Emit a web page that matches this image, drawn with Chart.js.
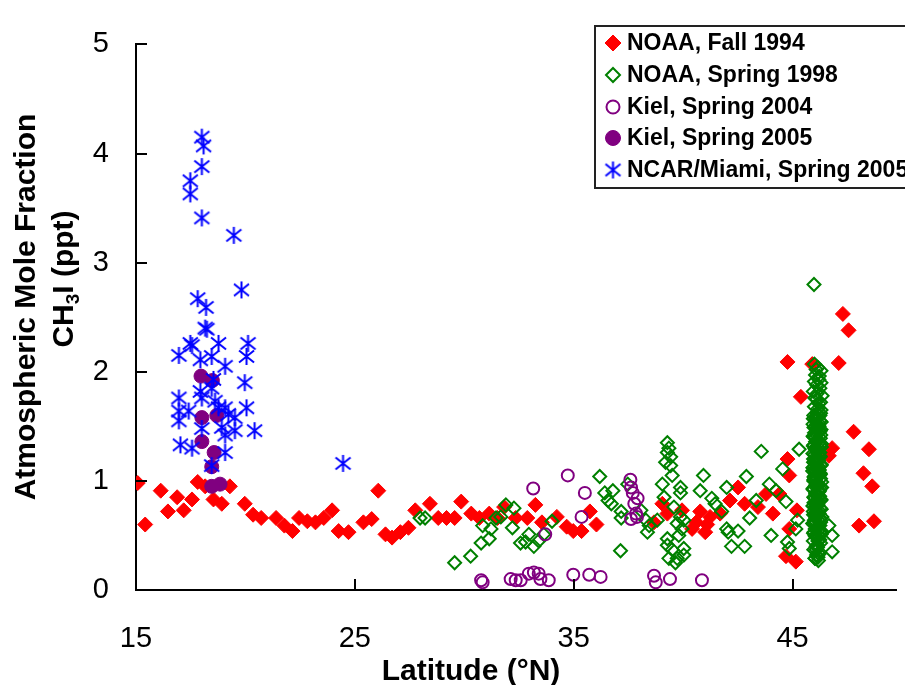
<!DOCTYPE html>
<html>
<head>
<meta charset="utf-8">
<script src="https://cdn.jsdelivr.net/npm/chart.js@4.4.1/dist/chart.umd.min.js"></script>
<style>
  body { margin: 0; background: #fff; }
  canvas { display: block; }
</style>
</head>
<body>
<canvas id="grafico" width="905" height="685"></canvas>
<script>
// eixos
var xTicks = [15, 25, 35, 45];
var yTicks = [0, 1, 2, 3, 4, 5];
var xTitle = 'Latitude (°N)';
var yTitle1 = 'Atmospheric Mole Fraction';
var yTitle2 = ['CH', '3', 'I (ppt)'];

var seriesLabels = ['NOAA, Fall 1994', 'NOAA, Spring 1998', 'Kiel, Spring 2004', 'Kiel, Spring 2005', 'NCAR/Miami, Spring 2005'];

// NOAA, Fall 1994
var noaa94Lat = [15.08,15.42,16.13,16.46,16.88,17.18,17.56,17.82,18.16,18.54,18.92,19.29,19.97,20.35,20.72,21.4,21.78,22.15,22.45,22.83,23.2,23.58,23.96,24.26,24.71,25.39,25.77,26.07,26.4,26.7,27.08,27.45,27.76,28.43,28.81,29.19,29.56,29.86,30.32,30.69,31.14,31.52,31.82,32.35,32.88,33.25,33.55,34.23,34.68,34.98,35.36,35.74,36.04,38.67,39.05,39.28,39.95,40.41,40.6,40.78,41.01,41.1,41.23,41.69,42.14,42.51,42.81,43.42,43.79,44.1,44.4,44.77,44.85,44.77,45.38,44.85,44.7,45.15,45.2,45.9,46.66,46.81,47.11,47.3,47.56,47.79,48.49,48.24,48.64,48.04,48.72];
var noaa94Val = [0.98,0.60,0.91,0.72,0.85,0.73,0.83,0.99,0.95,0.83,0.79,0.95,0.79,0.69,0.66,0.66,0.59,0.54,0.66,0.63,0.62,0.66,0.73,0.54,0.53,0.62,0.65,0.91,0.51,0.48,0.53,0.57,0.73,0.79,0.66,0.66,0.66,0.81,0.70,0.66,0.70,0.66,0.76,0.66,0.66,0.78,0.62,0.67,0.58,0.54,0.54,0.72,0.60,0.62,0.79,0.70,0.73,0.56,0.62,0.72,0.53,0.60,0.67,0.70,0.82,0.94,0.79,0.76,0.88,0.70,0.88,1.20,1.05,2.09,1.77,0.56,0.31,0.26,0.73,2.07,1.23,1.30,2.08,2.53,2.38,1.45,1.29,1.07,0.95,0.59,0.63];

// NOAA, Spring 1998 (a coluna densa em ~46N vem no fim)
var noaa98Lat = [27.98,28.21,29.56,30.29,30.77,30.84,31.14,31.22,31.45,31.67,31.9,32.27,32.2,32.57,32.8,32.95,33.18,33.4,33.63,34.01,36.19,36.42,36.57,36.79,36.72,37.17,37.17,37.14,37.47,
  38.07,38.3,38.45,38.37,38.82,39.28,39.35,39.28,39.43,39.2,39.43,39.5,39.05,39.88,39.88,39.13,39.58,39.88,39.73,39.95,40.03,39.28,39.28,39.5,39.73,39.35,40.03,40.03,39.65,39.8,
  40.93,40.78,41.31,41.46,41.76,41.99,41.99,42.06,42.51,42.21,42.81,42.89,43.04,43.34,43.57,43.94,44.02,44.25,44.55,44.7,44.77,44.85,45.3,45.23,45.15,46.81,46.81,46.66,45.98,
  46.00,46.15,46.30,46.05,46.20,46.10,46.25,45.95,46.35,46.10,46.20,46.00,46.30,46.10,46.25,
  46.08,46.22,46.00,46.30,46.12,46.02,46.28,46.15,
  45.95,46.25,46.10,45.98,46.30,46.12,45.94,46.27,46.08,45.97,46.32,46.15,45.93,46.24,46.05,45.96,46.31,46.13,45.92,46.26,46.07,45.98,46.33,46.14,45.94,46.23,46.06,45.97,46.30,46.11,45.93,46.27,46.09,45.96,46.34,46.16,45.92,46.25,46.04,45.98,46.31,46.12,45.95,46.28,46.08,45.97,46.22,46.10,46.02,46.18,
  46.18,46.02,46.20,46.03,46.19,46.01,46.20,46.05,46.22,46.00,46.17,46.03,46.21,46.14,46.06,46.18,45.99,46.24,46.09,46.16,
  46.28,45.97,46.16,46.04,46.31,45.94,46.21,46.09,46.26,46.00,46.29,45.98,46.14,46.05,46.32,45.95,46.20,46.10,46.25,46.01,
  46.27,45.96,46.17,46.03,46.30,45.93,46.22,46.08,46.27,45.99,46.28,45.97,46.15,46.06,46.33,45.94,46.19,46.11,46.24,46.02,
  46.29,45.98,46.16,46.04,46.31,45.95,46.21,46.09,46.26,46.00,46.28,45.97,46.13,46.05,46.30,45.96,46.20,46.12,46.23,
  46.13,46.07,46.19,46.03,46.24,45.99,46.11,46.27,46.05,46.17,46.12,46.08,46.20,46.02,46.23,46.00,46.10,46.26,46.06,46.18,
  46.14,46.07,46.19,46.04,46.25,45.99,46.12,46.27,46.05,46.16,46.13,46.08,46.21,46.03];
var noaa98Val = [0.66,0.66,0.25,0.31,0.43,0.59,0.47,0.56,0.66,0.67,0.78,0.75,0.57,0.43,0.44,0.51,0.40,0.45,0.51,0.63,1.04,0.89,0.82,0.91,0.79,0.72,0.66,0.36,0.97,
  0.73,0.64,0.59,0.53,0.64,1.35,1.30,1.26,1.22,1.17,1.14,1.05,0.97,0.94,0.89,0.85,0.76,0.67,0.61,0.56,0.64,0.47,0.41,0.37,0.29,0.29,0.38,0.32,0.25,0.50,
  1.05,0.91,0.84,0.79,0.72,0.94,0.56,0.53,0.54,0.40,0.40,1.04,0.66,0.82,1.27,0.97,0.50,0.91,1.11,0.81,0.44,0.38,1.29,0.64,0.56,0.35,0.50,0.59,2.80,
  2.07,2.04,2.01,1.97,1.93,1.88,1.85,1.82,1.78,1.75,1.71,1.68,1.65,1.62,1.60,
  2.02,1.96,1.91,1.90,1.80,1.76,1.72,1.66,
  1.57,1.55,1.52,1.49,1.47,1.44,1.41,1.39,1.36,1.33,1.31,1.28,1.25,1.23,1.20,1.17,1.15,1.12,1.09,1.07,1.04,1.01,0.99,0.96,0.93,0.91,0.88,0.85,0.83,0.80,0.77,0.75,0.72,0.69,0.67,0.64,0.61,0.59,0.56,0.53,0.51,0.48,0.45,0.43,0.40,0.37,0.35,0.32,0.29,0.27,
  1.50,1.30,1.10,0.95,0.70,0.62,0.90,1.40,1.35,1.13,0.82,0.50,0.55,0.39,0.66,1.19,1.03,0.46,1.58,0.30,
  1.62,1.60,1.58,1.56,1.54,1.52,1.50,1.48,1.46,1.44,1.42,1.40,1.38,1.36,1.34,1.32,1.30,1.28,1.26,1.24,
  1.22,1.20,1.18,1.16,1.14,1.12,1.10,1.08,1.06,1.04,1.02,1.00,0.98,0.96,0.94,0.92,0.90,0.88,0.86,0.84,
  0.82,0.80,0.78,0.76,0.74,0.72,0.70,0.68,0.66,0.64,0.62,0.60,0.58,0.56,0.54,0.52,0.50,0.48,0.46,
  1.61,1.57,1.53,1.49,1.45,1.41,1.37,1.33,1.29,1.25,1.21,1.17,1.13,1.09,1.05,1.01,0.97,0.93,0.89,0.85,
  0.81,0.77,0.73,0.69,0.65,0.61,0.57,0.53,0.49,0.45,0.41,0.37,0.33,0.29];

// Kiel, Spring 2004
var kiel04Lat = [30.77,30.84,32.12,32.35,32.58,32.95,33.18,33.4,33.48,33.86,33.15,33.7,34.73,35.51,35.36,34.98,35.71,36.23,37.59,37.62,37.7,37.77,37.85,37.62,37.92,37.89,38.67,38.75,39.4,40.86];
var kiel04Val = [0.09,0.07,0.10,0.09,0.09,0.15,0.16,0.15,0.10,0.09,0.93,0.51,1.05,0.89,0.67,0.14,0.14,0.12,1.01,0.94,0.89,0.79,0.70,0.65,0.84,0.67,0.13,0.07,0.10,0.09];

// Kiel, Spring 2005
var kiel05Lat = [17.97,18.49,18.01,18.69,18.01,18.57,18.46,18.46,18.84];
var kiel05Val = [1.96,1.92,1.58,1.60,1.36,1.26,1.13,0.95,0.97];

// NCAR/Miami, Spring 2005
var ncarLat = [18.01,18.09,18.01,17.48,17.48,18.01,19.47,19.82,17.82,18.2,18.16,18.24,17.48,17.56,18.77,20.12,20.05,16.96,17.94,18.46,19.07,18.54,19.97,17.94,18.01,18.46,16.96,16.96,16.96,17.41,18.61,18.77,19.07,19.22,20.05,19.52,18.92,19.52,20.42,18.01,19.07,17.03,17.56,19.07,18.46,24.46];
var ncarVal = [4.15,4.07,3.88,3.75,3.63,3.41,3.25,2.75,2.67,2.59,2.40,2.39,2.26,2.24,2.26,2.26,2.14,2.15,2.11,2.14,2.05,1.93,1.90,1.82,1.76,1.85,1.76,1.64,1.55,1.64,1.73,1.67,1.67,1.61,1.67,1.58,1.49,1.46,1.46,1.48,1.42,1.33,1.30,1.26,1.14,1.16];

function pontos(lat, val) {
    var lista = [];
    lat.forEach(function (x, i) { lista.push({ x: x, y: val[i] }); });
    return lista;
}

// marcador asterisco (X + linha vertical), igual ao do Excel
function asterisco(cor) {
    var c = document.createElement('canvas');
    c.width = 19; c.height = 19;
    var g = c.getContext('2d');
    g.strokeStyle = cor;
    g.lineWidth = 2;
    g.beginPath();
    g.moveTo(9.5, 1); g.lineTo(9.5, 18);
    g.moveTo(2, 3.5); g.lineTo(17, 15.5);
    g.moveTo(17, 3.5); g.lineTo(2, 15.5);
    g.stroke();
    return c;
}

var fonte = "'Liberation Sans', Arial, sans-serif";

// titulos dos eixos (com subscrito no CH3I)
var titulos = {
    id: 'titulos',
    afterDraw: function (chart) {
        var ctx = chart.ctx;
        ctx.save();
        ctx.fillStyle = '#000';
        ctx.textBaseline = 'alphabetic';
        ctx.textAlign = 'center';
        ctx.font = 'bold 30px ' + fonte;
        ctx.fillText(xTitle, 471, 680);

        ctx.save();
        ctx.translate(35, 307);
        ctx.rotate(-Math.PI / 2);
        ctx.fillText(yTitle1, 0, 0);
        ctx.restore();

        ctx.save();
        ctx.translate(73, 279);
        ctx.rotate(-Math.PI / 2);
        ctx.textAlign = 'left';
        ctx.font = 'bold 30px ' + fonte;
        var w0 = ctx.measureText(yTitle2[0]).width;
        var w2 = ctx.measureText(yTitle2[2]).width;
        ctx.font = 'bold 19px ' + fonte;
        var w1 = ctx.measureText(yTitle2[1]).width;
        var x = -(w0 + w1 + w2) / 2;
        ctx.font = 'bold 30px ' + fonte;
        ctx.fillText(yTitle2[0], x, 0);
        ctx.font = 'bold 19px ' + fonte;
        ctx.fillText(yTitle2[1], x + w0, 6);
        ctx.font = 'bold 30px ' + fonte;
        ctx.fillText(yTitle2[2], x + w0 + w1, 0);
        ctx.restore();
        ctx.restore();
    }
};

// marcas dos eixos para dentro
var marcas = {
    id: 'marcas',
    afterDraw: function (chart) {
        var ctx = chart.ctx;
        var sx = chart.scales.x, sy = chart.scales.y;
        var a = chart.chartArea;
        ctx.save();
        ctx.strokeStyle = '#000';
        ctx.lineWidth = 2;
        ctx.beginPath();
        xTicks.forEach(function (v) {
            var px = Math.round(sx.getPixelForValue(v));
            ctx.moveTo(px, a.bottom); ctx.lineTo(px, a.bottom - 11);
        });
        yTicks.forEach(function (v) {
            var py = Math.round(sy.getPixelForValue(v));
            ctx.moveTo(a.left, py); ctx.lineTo(a.left + 11, py);
        });
        ctx.stroke();
        ctx.restore();
    }
};

// legenda dentro do grafico, com caixa
var legenda = {
    id: 'legenda',
    afterDraw: function (chart) {
        var ctx = chart.ctx;
        ctx.save();
        ctx.fillStyle = '#fff';
        ctx.fillRect(595, 26, 320, 162);
        ctx.strokeStyle = '#222';
        ctx.lineWidth = 2;
        ctx.strokeRect(595, 26, 320, 162);
        var linhas = [43, 75, 107, 138, 170];
        chart.data.datasets.forEach(function (ds, i) {
            var y = linhas[i];
            ctx.save();
            ctx.fillStyle = ds.backgroundColor;
            ctx.strokeStyle = ds.borderColor;
            ctx.lineWidth = ds.borderWidth;
            Chart.helpers.drawPoint(ctx, { pointStyle: ds.pointStyle, radius: ds.pointRadius + 0.5, borderWidth: ds.borderWidth, rotation: 0 }, 613, y);
            ctx.restore();
            ctx.fillStyle = '#000';
            ctx.font = 'bold 23px ' + fonte;
            ctx.textAlign = 'left';
            ctx.textBaseline = 'middle';
            ctx.fillText(ds.label, 627, y + 1);
        });
        ctx.restore();
    }
};

var ctx = document.getElementById('grafico').getContext('2d');
var chart = new Chart(ctx, {
    type: 'scatter',
    data: {
        datasets: [{
            label: seriesLabels[0],
            data: pontos(noaa94Lat, noaa94Val),
            pointStyle: 'rectRot',
            pointRadius: 7.5,
            backgroundColor: '#ff0000',
            borderColor: '#ff0000',
            borderWidth: 1,
            order: 5
        }, {
            label: seriesLabels[1],
            data: pontos(noaa98Lat, noaa98Val),
            pointStyle: 'rectRot',
            pointRadius: 6.5,
            backgroundColor: 'rgba(255,255,255,0)',
            borderColor: '#008000',
            borderWidth: 2,
            order: 4
        }, {
            label: seriesLabels[2],
            data: pontos(kiel04Lat, kiel04Val),
            pointStyle: 'circle',
            pointRadius: 6,
            backgroundColor: 'rgba(255,255,255,0)',
            borderColor: '#800080',
            borderWidth: 2,
            order: 3
        }, {
            label: seriesLabels[3],
            data: pontos(kiel05Lat, kiel05Val),
            pointStyle: 'circle',
            pointRadius: 7,
            backgroundColor: '#800080',
            borderColor: '#800080',
            borderWidth: 1,
            order: 2
        }, {
            label: seriesLabels[4],
            data: pontos(ncarLat, ncarVal),
            pointStyle: asterisco('#0000ff'),
            pointRadius: 7,
            backgroundColor: '#0000ff',
            borderColor: '#0000ff',
            borderWidth: 1,
            order: 1
        }]
    },
    options: {
        responsive: false,
        animation: false,
        devicePixelRatio: 1,
        layout: { padding: { top: 21, right: 0, left: 0, bottom: 0 } },
        plugins: {
            legend: { display: false },
            tooltip: { enabled: false }
        },
        scales: {
            x: {
                type: 'linear',
                min: 15,
                max: 49.75,
                grid: { display: false, drawTicks: false },
                border: { display: true, color: '#000', width: 2 },
                afterBuildTicks: function (s) { s.ticks = xTicks.map(function (v) { return { value: v }; }); },
                afterFit: function (s) { s.height = 95; },
                ticks: {
                    color: '#000',
                    padding: 32,
                    maxRotation: 0,
                    autoSkip: false,
                    font: { family: fonte, size: 29 }
                }
            },
            y: {
                type: 'linear',
                min: 0,
                max: 5,
                grid: { display: false, drawTicks: false },
                border: { display: true, color: '#000', width: 2 },
                afterBuildTicks: function (s) { s.ticks = yTicks.map(function (v) { return { value: v }; }); },
                afterFit: function (s) { s.width = 136; },
                ticks: {
                    color: '#000',
                    padding: 27,
                    font: { family: fonte, size: 29 }
                }
            }
        }
    },
    plugins: [marcas, titulos, legenda]
});
</script>
</body>
</html>
